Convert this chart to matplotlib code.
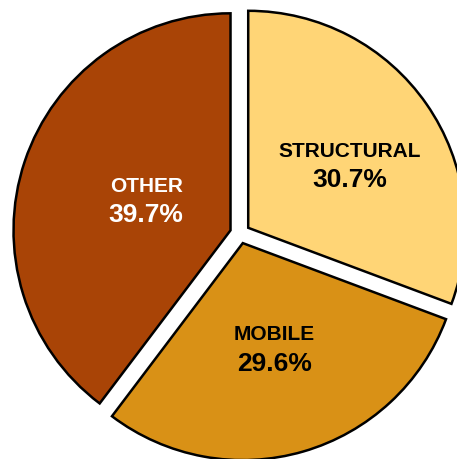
import numpy as np
import matplotlib
matplotlib.use("Agg")
import matplotlib.pyplot as plt

categories = ["STRUCTURAL", "MOBILE", "OTHER"]
shares = [30.7, 29.6, 39.7]
colors = ["#FFD576", "#D99116", "#A94406"]
text_colors = ["black", "black", "white"]

plt.rcParams['font.family'] = ['Liberation Sans', 'DejaVu Sans']

W, H = 457, 459
fig = plt.figure(figsize=(W / 100, H / 100), dpi=100)
ax = fig.add_axes([0, 0, 1, 1])

R = 217.0            # radius in pixels
cx, cy = 240.0, 233.5  # center in pixels (from top-left)
explode_px = 10.0

wedges, _ = ax.pie(shares, colors=colors, startangle=90, counterclock=False,
                   explode=[explode_px / R] * 3, radius=1.0,
                   wedgeprops=dict(edgecolor="black", linewidth=1.8))

ax.set_xlim(-cx / R, (W - cx) / R)
ax.set_ylim(-(H - cy) / R, cy / R)
ax.set_aspect("equal")
ax.axis("off")

label_r = [0.60, 0.55, 0.46]
label_ang_adj = [-2.5, 0.5, -1.5]
for w, cat, val, tc, lr, da in zip(wedges, categories, shares, text_colors, label_r, label_ang_adj):
    mid = np.deg2rad((w.theta1 + w.theta2) / 2 + da)
    x = lr * np.cos(mid)
    y = lr * np.sin(mid)
    ax.text(x, y + 13 / R, cat, ha="center", va="center", color=tc,
            fontsize=15, fontweight="bold")
    ax.text(x, y - 16 / R, f"{val}%", ha="center", va="center", color=tc,
            fontsize=19, fontweight="bold")

fig.savefig("out.png", dpi=100)
